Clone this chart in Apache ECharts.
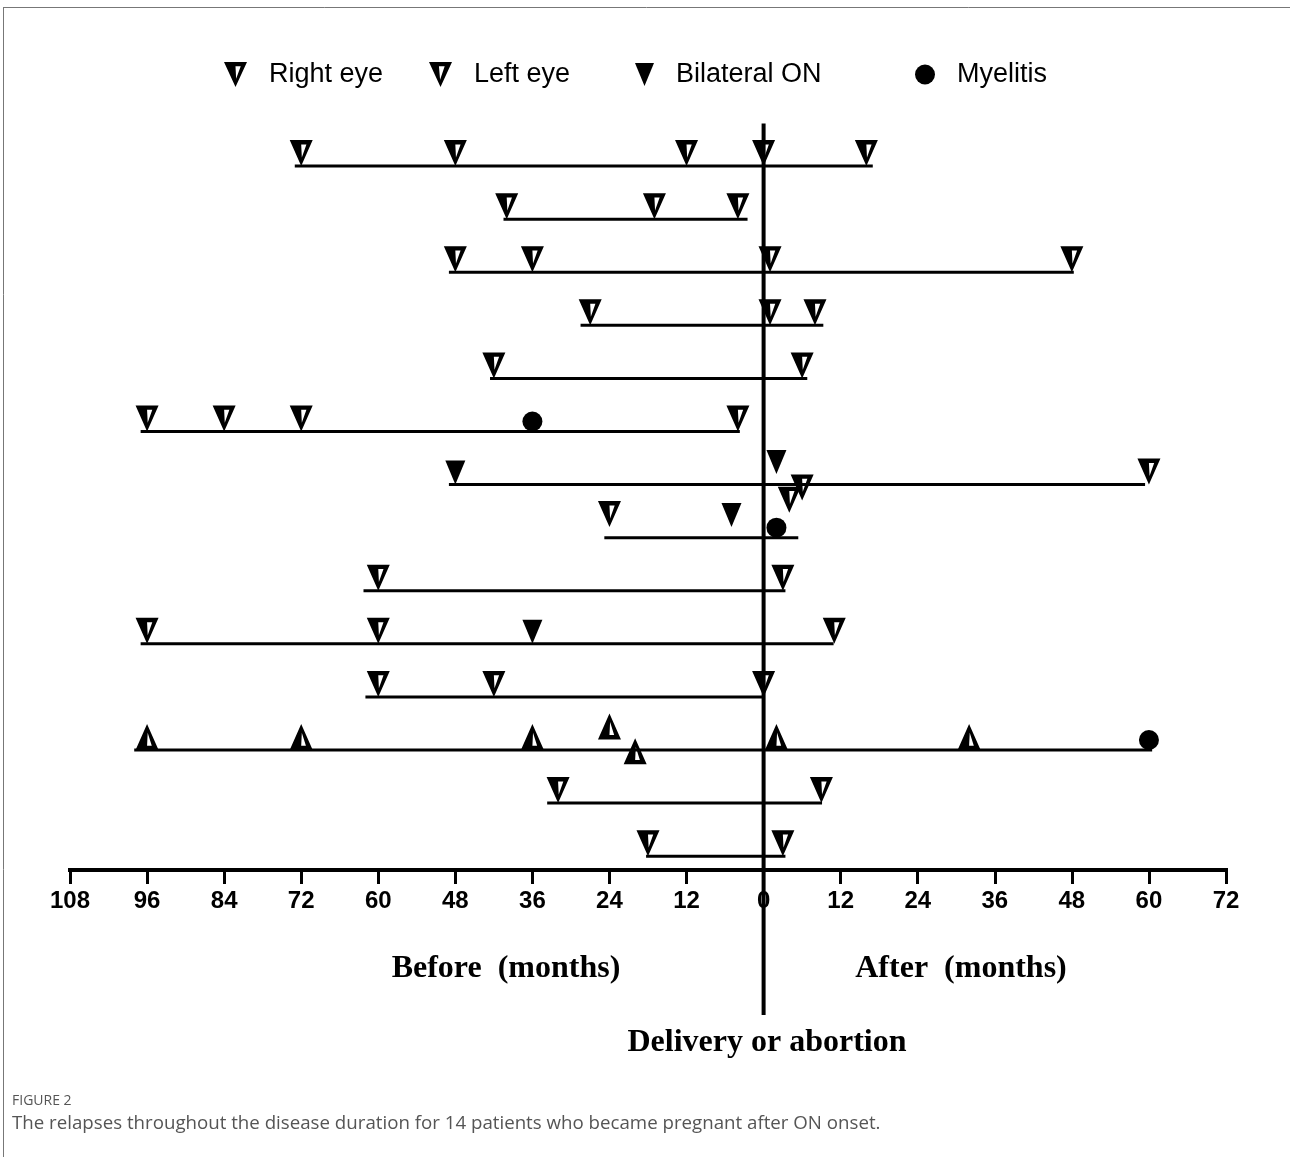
<!DOCTYPE html>
<html>
<head>
<meta charset="utf-8">
<style>
  html, body { margin: 0; padding: 0; background: #fff; }
  #chart { width: 1290px; height: 1157px; }
</style>
<script src="https://cdn.jsdelivr.net/npm/echarts@6/dist/echarts.min.js"></script>
</head>
<body>
<div id="chart"></div>
<script>
// ---------- data ----------
const xTicks = [-108, -96, -84, -72, -60, -48, -36, -24, -12, 0, 12, 24, 36, 48, 60, 72];
const patients = [1, 2, 3, 4, 5, 6, 7, 8, 9, 10, 11, 12, 13, 14];
const spanStart = [-73, -40.5, -49, -28.5, -42.6, -97, -49, -24.8, -62.3, -97, -62, -98, -33.7, -18.3];
const spanEnd   = [17, -2.5, 48.3, 9.3, 6.8, -3.7, 59.4, 5.4, 3.4, 10.9, 0.2, 60.5, 9.1, 3.4];
// [month, patient level]
const rightEye = [
  [-72, 1], [-48, 1], [-12, 1], [0, 1], [16, 1],
  [-40, 2], [-17, 2], [-4, 2],
  [-48, 3], [-36, 3], [1, 3], [48, 3],
  [-27, 4], [1, 4], [8, 4],
  [-42, 5], [6, 5],
  [-96, 6], [-84, 6], [-72, 6], [-4, 6],
  [6, 7.3], [60, 7],
  [-24, 7.8], [4, 7.53],
  [-60, 9], [3, 9],
  [-96, 10], [-60, 10], [11, 10],
  [-60, 11], [-42, 11], [0, 11],
  [-32, 13], [9, 13],
  [-18, 14], [3, 14]
];
// upward-drawn eye relapses of patient 12
const rightEyeUp = [[-96, 12], [-72, 12], [-36, 12], [-24, 11.8], [-20, 12.27], [2, 12], [32, 12]];
const leftEye = [];
const bilateral = [[-48, 7], [2, 6.8], [-5, 7.8], [-36, 10]];
const myelitis = [[-36, 6], [2, 8], [60, 12]];
const deliveryMonth = 0;

// ---------- symbols ----------
const rightPath = 'path://M0,0 L22,0 L11,24 Z M11,4 L11.6,16 L16,4 Z';
const leftPath  = 'path://M0,0 L22,0 L11,24 Z M9.5,4 L10.6,17 L15,4 Z';
const upPath    = 'path://M11,0 L22,24 L0,24 Z M11.6,8 L11,20 L15.5,20 Z';
const bilPath   = 'path://M0,0 L20,0 L10,24 Z';

const chart = echarts.init(document.getElementById('chart'), null, { renderer: 'canvas' });

const eyeData = rightEye.map(d => ({ value: d }))
  .concat(rightEyeUp.map(d => ({ value: d, symbol: upPath })));

const legendBase = {
  orient: 'horizontal', top: 56, selectedMode: false,
  itemGap: 0,
  textStyle: { fontSize: 27, color: '#000', fontFamily: 'Liberation Sans, Arial, sans-serif', padding: [0, 0, 0, 17] }
};

const option = {
  backgroundColor: '#fff',
  animation: false,
  legend: [
    Object.assign({}, legendBase, { left: 219, itemWidth: 23, itemHeight: 26, data: [{ name: 'Right eye', icon: rightPath }] }),
    Object.assign({}, legendBase, { left: 424, itemWidth: 23, itemHeight: 26, data: [{ name: 'Left eye', icon: leftPath }] }),
    Object.assign({}, legendBase, { left: 630, itemWidth: 19, itemHeight: 23, data: [{ name: 'Bilateral ON', icon: bilPath }] }),
    Object.assign({}, legendBase, { left: 910, itemWidth: 20, itemHeight: 21, data: [{ name: 'Myelitis', icon: 'circle' }] })
  ],
  grid: { left: 70, right: 64, top: 113, height: 757, containLabel: false },
  xAxis: {
    type: 'value', position: 'bottom',
    min: xTicks[0], max: xTicks[xTicks.length - 1], interval: 12,
    splitLine: { show: false },
    axisLine: { show: true, onZero: false, lineStyle: { color: '#000', width: 4, cap: 'square' } },
    axisTick: { show: true, length: 14, lineStyle: { color: '#000', width: 3 } },
    axisLabel: {
      margin: 19, color: '#000', fontSize: 24, fontWeight: 'bold',
      fontFamily: "'Liberation Sans', Arial, sans-serif",
      formatter: v => String(Math.abs(v))
    }
  },
  yAxis: {
    type: 'value', inverse: true, min: 0, max: 14.26, show: false
  },
  series: [
    {
      name: 'spans', type: 'custom', silent: true, z: 2,
      data: patients.map((p, i) => [spanStart[i], spanEnd[i], p]),
      encode: { x: [0, 1], y: 2 },
      renderItem: (params, api) => {
        const a = api.coord([api.value(0), api.value(2)]);
        const b = api.coord([api.value(1), api.value(2)]);
        return { type: 'line', shape: { x1: a[0], y1: a[1], x2: b[0], y2: b[1] }, style: { stroke: '#000', lineWidth: 3 } };
      }
    },
    {
      name: 'Right eye', type: 'scatter', z: 3,
      symbol: rightPath, symbolSize: [23, 26], symbolOffset: [0, -13],
      itemStyle: { color: '#000', opacity: 1 },
      data: eyeData
    },
    {
      name: 'Left eye', type: 'scatter', z: 3,
      symbol: leftPath, symbolSize: [23, 26], symbolOffset: [0, -13],
      itemStyle: { color: '#000', opacity: 1 },
      data: leftEye
    },
    {
      name: 'Bilateral ON', type: 'scatter', z: 3,
      symbol: bilPath, symbolSize: [20, 24], symbolOffset: [0, -12],
      itemStyle: { color: '#000', opacity: 1 },
      data: bilateral
    },
    {
      name: 'Myelitis', type: 'scatter', z: 3,
      symbol: 'circle', symbolSize: 20, symbolOffset: [0, -10],
      itemStyle: { color: '#000', opacity: 1 },
      data: myelitis
    },
    {
      name: 'delivery', type: 'custom', silent: true, z: 5, clip: false,
      data: [[deliveryMonth]],
      encode: { x: 0 },
      renderItem: (params, api) => {
        const a = api.coord([api.value(0), 0.2]);
        const b = api.coord([api.value(0), 16.99]);
        return { type: 'line', shape: { x1: a[0], y1: a[1], x2: b[0], y2: b[1] }, style: { stroke: '#000', lineWidth: 4 } };
      }
    }
  ],
  graphic: [
    { type: 'line', shape: { x1: 3, y1: 7.5, x2: 1290, y2: 7.5 }, style: { stroke: '#777', lineWidth: 1 } },
    { type: 'line', shape: { x1: 3.5, y1: 7, x2: 3.5, y2: 1157 }, style: { stroke: '#777', lineWidth: 1 } },
    { type: 'text', x: 506, y: 969, style: { text: 'Before  (months)', fill: '#000', font: "bold 32px 'Liberation Serif', 'Times New Roman', serif", align: 'center', verticalAlign: 'middle' } },
    { type: 'text', x: 961, y: 969, style: { text: 'After  (months)', fill: '#000', font: "bold 32px 'Liberation Serif', 'Times New Roman', serif", align: 'center', verticalAlign: 'middle' } },
    { type: 'text', x: 767, y: 1043, style: { text: 'Delivery or abortion', fill: '#000', font: "bold 32px 'Liberation Serif', 'Times New Roman', serif", align: 'center', verticalAlign: 'middle' } },
    { type: 'text', x: 12, y: 1101, style: { text: 'FIGURE 2', fill: '#555', font: "14px 'Open Sans', 'Noto Sans', sans-serif", align: 'left', verticalAlign: 'middle' } },
    { type: 'text', x: 12, y: 1124, style: { text: 'The relapses throughout the disease duration for 14 patients who became pregnant after ON onset.', fill: '#555', font: "18.7px 'Open Sans', 'Noto Sans', sans-serif", align: 'left', verticalAlign: 'middle' } }
  ]
};

chart.setOption(option);
</script>
</body>
</html>
